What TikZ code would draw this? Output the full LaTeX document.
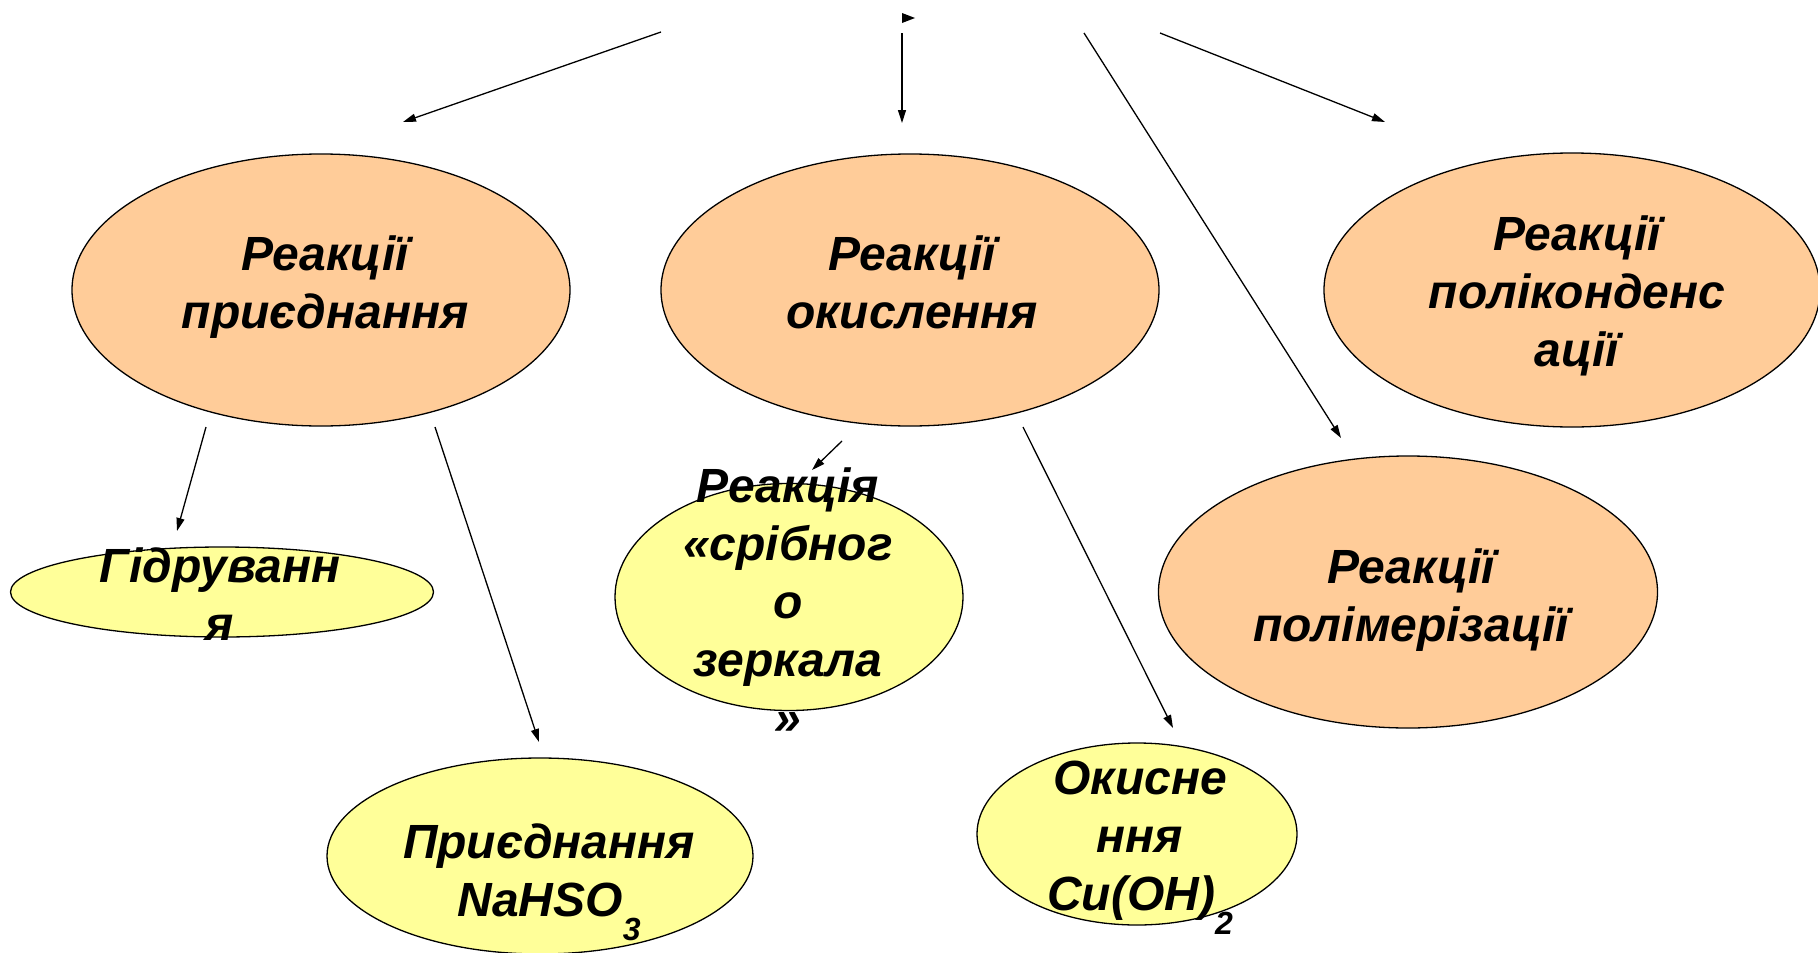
\documentclass[tikz,border=0pt]{standalone}
\usepackage{fontspec}
\setmainfont{Liberation Sans}
\usetikzlibrary{arrows.meta,shapes.geometric}
\definecolor{peach}{HTML}{FFCC99}
\definecolor{lemon}{HTML}{FFFF99}
\tikzset{
  oval/.style={ellipse, draw=black, line width=1.3pt, inner sep=0pt},
  bigoval/.style={oval, fill=peach},
  smalloval/.style={oval, fill=lemon},
  % captions are placed by the baseline of their last line
  ovaltext/.style={anchor=base, align=center, inner sep=0pt,
    font=\fontsize{48}{58}\selectfont\bfseries\itshape},
  arrowline/.style={-{Triangle[length=13pt,width=8pt]}, line width=1.3pt}
}
\newcommand{\lowsub}[1]{\raisebox{-0.52em}{\fontsize{32}{32}\selectfont #1}}
\begin{document}
\begin{tikzpicture}[x=1pt,y=-1pt]
\useasboundingbox (0,0) rectangle (1818,953);
\clip (0,0) rectangle (1818,953);

% main reaction groups
\node[bigoval, minimum width=498pt, minimum height=272pt] (add)  at (321,290) {};
\node[bigoval, minimum width=498pt, minimum height=272pt] (ox)   at (910,290) {};
\node[bigoval, minimum width=496pt, minimum height=274pt] (cond) at (1572,290) {};
\node[bigoval, minimum width=499pt, minimum height=272pt] (poly) at (1408,592) {};

% particular reactions
\node[smalloval, minimum width=423pt, minimum height=90pt]  (hyd)  at (222,592) {};
\node[smalloval, minimum width=426pt, minimum height=196pt] (nah)  at (540,856) {};
\node[smalloval, minimum width=348pt, minimum height=227pt] (mir)  at (789,597) {};
\node[smalloval, minimum width=320pt, minimum height=182pt] (cu)   at (1137,834) {};

% captions
\node[ovaltext] (addT)  at (325,328)  {Реакції\\приєднання};
\node[ovaltext] (oxT)   at (912,328)  {Реакції\\окислення};
\node[ovaltext] (condT) at (1577,366) {Реакції\\поліконденс\\ації};
\node[ovaltext] (polyT) at (1411,641) {Реакції\\полімерізації};
\node[ovaltext] (hydT)  at (220,640)  {Гідруванн\\я};
\node[ovaltext] (nahT)  at (549,916)  {Приєднання\\NaHSO\lowsub{3}};
\node[ovaltext] (mirT)  at (788,734)  {Реакція\\«срібног\\о\\зеркала\\»};
\node[ovaltext] (cuT)   at (1140,910) {Окисне\\ння\\Cu(OH)\lowsub{2}};

% arrow end points
\coordinate (t1s) at (661,32);   \coordinate (t1e) at (403,122);
\coordinate (t2s) at (902,33);   \coordinate (t2e) at (902,123);
\coordinate (t3s) at (1084,33);  \coordinate (t3e) at (1341,438);
\coordinate (t4s) at (1160,33);  \coordinate (t4e) at (1385,122);
\coordinate (tks) at (902,18);   \coordinate (tke) at (915,18);
\coordinate (a1s) at (206,427);  \coordinate (a1e) at (177,531);
\coordinate (a2s) at (435,427);  \coordinate (a2e) at (539,742);
\coordinate (b1s) at (842,441);  \coordinate (b1e) at (812,470);
\coordinate (b2s) at (1023,427); \coordinate (b2e) at (1173,728);

\draw[arrowline] (t1s) -- (t1e);
\draw[arrowline] (t2s) -- (t2e);
\draw[arrowline] (t3s) -- (t3e);
\draw[arrowline] (t4s) -- (t4e);
\draw[-{Triangle[length=13pt,width=10pt]}, line width=0pt] (tks) -- (tke);
\draw[arrowline] (a1s) -- (a1e);
\draw[arrowline] (a2s) -- (a2e);
\draw[arrowline] (b1s) -- (b1e);
\draw[arrowline] (b2s) -- (b2e);
\end{tikzpicture}
\end{document}
